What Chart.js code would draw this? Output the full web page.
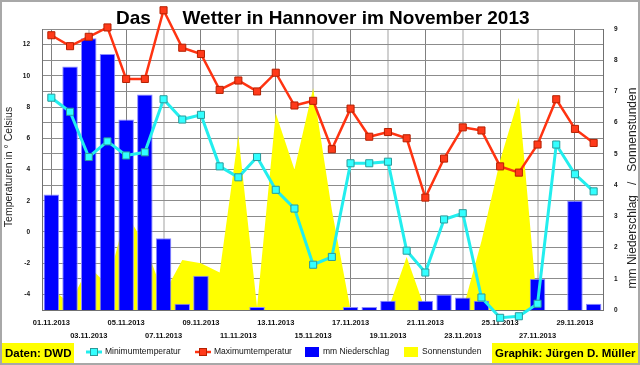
<!DOCTYPE html>
<html><head><meta charset="utf-8">
<script src="https://cdn.jsdelivr.net/npm/chart.js@4/dist/chart.umd.min.js"></script>
<style>html,body{margin:0;padding:0;background:#fff;overflow:hidden}#wrap{width:640px;height:365px;position:relative}canvas{display:block}</style>
</head><body><div id="wrap"><canvas id="c" width="640" height="365"></canvas></div>
<script>
const categories = ['01.11.2013','02.11.2013','03.11.2013','04.11.2013','05.11.2013','06.11.2013','07.11.2013','08.11.2013','09.11.2013','10.11.2013',
  '11.11.2013','12.11.2013','13.11.2013','14.11.2013','15.11.2013','16.11.2013','17.11.2013','18.11.2013','19.11.2013','20.11.2013',
  '21.11.2013','22.11.2013','23.11.2013','24.11.2013','25.11.2013','26.11.2013','27.11.2013','28.11.2013','29.11.2013','30.11.2013'];
const minTemp = [8.6, 7.7, 4.8, 5.8, 4.9, 5.1, 8.5, 7.2, 7.5, 4.2, 3.5, 4.8, 2.7, 1.5, -2.1, -1.6, 4.4, 4.4, 4.5, -1.2, -2.6, 0.8, 1.2, -4.2, -5.5, -5.4, -4.6, 5.6, 3.7, 2.6];
const maxTemp = [12.6, 11.9, 12.5, 13.1, 9.8, 9.8, 14.2, 11.8, 11.4, 9.1, 9.7, 9.0, 10.2, 8.1, 8.4, 5.3, 7.9, 6.1, 6.4, 6.0, 2.2, 4.7, 6.7, 6.5, 4.2, 3.8, 5.6, 8.5, 6.6, 5.7];
const precipitation = [3.7, 7.8, 8.7, 8.2, 6.1, 6.9, 2.3, 0.2, 1.1, 0, 0, 0.1, 0, 0, 0, 0, 0.1, 0.1, 0.3, 0, 0.3, 0.5, 0.4, 0.3, 0, 0, 1.0, 0, 3.5, 0.2];
const sunshine = [0.7, 0.2, 1.4, 0.8, 3.1, 2.1, 0.5, 1.6, 1.5, 1.2, 5.6, 0.1, 6.3, 4.5, 7.1, 3.2, 0, 0, 0, 1.7, 0, 0, 0, 2.2, 4.8, 6.8, 0, 0, 0, 0];
const tempTickLabels = [-4, -2, 0, 2, 4, 6, 8, 10, 12];
const rightTickLabels = [0, 1, 2, 3, 4, 5, 6, 7, 8, 9];
const titleText = 'Das      Wetter in Hannover im November 2013';
const leftTitle = 'Temperaturen in \u00b0 Celsius';
const rightTitle = 'mm Niederschlag   /   Sonnenstunden';
const sourceText = 'Daten: DWD';
const authorText = 'Graphik: J\u00fcrgen D. M\u00fcller';

const FONT = '"Liberation Sans", Arial, sans-serif';
const C_MIN = '#22eeee', C_MIN_PT = '#33ffff', C_MIN_BD = '#2a9a9a';
const C_MAX = '#ff3311', C_MAX_PT = '#ff3a1a', C_MAX_BD = '#b52000';

const deco = {
  id: 'deco',
  beforeDraw(chart) {
    const ctx = chart.ctx;
    ctx.save();
    ctx.fillStyle = '#ffffff';
    ctx.fillRect(0, 0, chart.width, chart.height);
    ctx.restore();
  },
  afterDatasetDraw(chart, args) {
    // markers lying just outside the plot area (the library skips them)
    const meta = args.meta;
    if (meta.type !== 'line') return;
    const area = chart.chartArea;
    const big = { left: -1e4, top: -1e4, right: 1e4, bottom: 1e4 };
    meta.data.forEach(pt => {
      const r = pt.options.radius;
      if (!(r > 0.1)) return;
      if (pt.y < area.top - r / 2 || pt.y > area.bottom + r / 2) pt.draw(chart.ctx, big);
    });
  },
  afterDraw(chart) {
    const ctx = chart.ctx;
    const ds = chart.data.datasets;
    ctx.save();
    // title
    ctx.fillStyle = '#000';
    ctx.font = 'bold 19px ' + FONT;
    ctx.textAlign = 'left';
    ctx.textBaseline = 'alphabetic';
    ctx.fillText(titleText, 116, 24);
    // axis titles
    ctx.font = '10.5px ' + FONT;
    ctx.fillStyle = '#222';
    ctx.textAlign = 'center';
    ctx.textBaseline = 'middle';
    ctx.save(); ctx.translate(9, 167); ctx.rotate(-Math.PI / 2); ctx.fillText(leftTitle, 0, 0); ctx.restore();
    ctx.font = '12px ' + FONT;
    ctx.save(); ctx.translate(633, 188); ctx.rotate(-Math.PI / 2); ctx.fillText(rightTitle, 0, 0); ctx.restore();
    // legend
    const ly = 352;
    ctx.font = '8.5px ' + FONT;
    ctx.textAlign = 'left';
    ctx.fillStyle = '#111';
    function lineItem(x0, x1, d) {
      ctx.strokeStyle = d.borderColor; ctx.lineWidth = d.borderWidth;
      ctx.beginPath(); ctx.moveTo(x0, ly); ctx.lineTo(x1, ly); ctx.stroke();
      const cx = (x0 + x1) / 2;
      ctx.fillStyle = d.pointBackgroundColor; ctx.fillRect(cx - 3.5, ly - 3.5, 7, 7);
      ctx.strokeStyle = d.pointBorderColor; ctx.lineWidth = 1; ctx.strokeRect(cx - 3.5, ly - 3.5, 7, 7);
      ctx.fillStyle = '#111'; ctx.fillText(d.label, x1 + 3, ly);
    }
    lineItem(86, 102, ds[0]);
    lineItem(195, 211, ds[1]);
    ctx.fillStyle = ds[2].backgroundColor; ctx.fillRect(305, ly - 5, 14, 10);
    ctx.fillStyle = '#111'; ctx.fillText(ds[2].label, 323, ly);
    ctx.fillStyle = ds[3].backgroundColor; ctx.fillRect(404, ly - 5, 14, 10);
    ctx.fillStyle = '#111'; ctx.fillText(ds[3].label, 422, ly);
    // footer boxes
    ctx.font = 'bold 11.5px ' + FONT;
    ctx.fillStyle = '#ffff00'; ctx.fillRect(1, 343, 73, 20);
    ctx.fillStyle = '#000'; ctx.fillText(sourceText, 5, 354);
    ctx.fillStyle = '#ffff00'; ctx.fillRect(492, 343, 146, 20);
    ctx.fillStyle = '#000'; ctx.fillText(authorText, 495, 354);
    // outer border
    ctx.strokeStyle = '#a8a8a8'; ctx.lineWidth = 2;
    ctx.strokeRect(1, 1, chart.width - 2, chart.height - 2);
    ctx.restore();
  }
};

new Chart(document.getElementById('c'), {
  type: 'bar',
  data: {
    labels: categories,
    datasets: [
      { type: 'line', label: 'Minimumtemperatur', data: minTemp, yAxisID: 'y', order: 1,
        borderColor: C_MIN, borderWidth: 3, pointStyle: 'rect', pointRadius: 5, pointHoverRadius: 5,
        pointBackgroundColor: C_MIN_PT, pointBorderColor: C_MIN_BD, pointBorderWidth: 1, tension: 0, clip: false, fill: false },
      { type: 'line', label: 'Maximumtemperatur', data: maxTemp, yAxisID: 'y', order: 0,
        borderColor: C_MAX, borderWidth: 2.5, pointStyle: 'rect', pointRadius: 5, pointHoverRadius: 5,
        pointBackgroundColor: C_MAX_PT, pointBorderColor: C_MAX_BD, pointBorderWidth: 1, tension: 0, clip: false, fill: false },
      { type: 'bar', label: 'mm Niederschlag', data: precipitation, yAxisID: 'y1', order: 2,
        backgroundColor: '#0000ff', borderColor: '#8c8cff',
        borderWidth: c => (c.raw > 0 ? 1 : 0), borderSkipped: 'bottom',
        categoryPercentage: 1, barPercentage: 0.83 },
      { type: 'line', label: 'Sonnenstunden', data: sunshine, yAxisID: 'y1', order: 3,
        backgroundColor: '#ffff00', borderColor: '#ffff00', borderWidth: 0, pointRadius: 0, pointHoverRadius: 0,
        fill: 'origin', tension: 0 }
    ]
  },
  options: {
    responsive: false,
    animation: false,
    devicePixelRatio: 1,
    layout: { padding: { top: 29, left: 0, right: 0, bottom: 0 } },
    plugins: { legend: { display: false }, tooltip: { enabled: false }, title: { display: false } },
    scales: {
      x: {
        type: 'category', offset: true,
        afterFit: s => { s.height = 55; },
        border: { display: true, color: '#707070', width: 1 },
        grid: {
          offset: false, drawTicks: false,
          color: c => (c.index % 4 === 0 ? '#808080' : (c.index % 4 === 2 ? '#d0d0d0' : 'rgba(0,0,0,0)')),
          lineWidth: c => (c.index % 4 === 2 ? 2 : 1)
        },
        ticks: {
          autoSkip: false, maxRotation: 0, minRotation: 0, padding: 6.5, color: '#111',
          font: { family: FONT, size: 7.5, weight: 'bold', lineHeight: '13px' },
          callback: function (v, i) {
            const l = categories[i];
            if (i % 4 === 0) return [l, ''];
            if (i % 4 === 2) return ['', l];
            return '';
          }
        }
      },
      y: {
        position: 'left', min: -5, max: 13,
        afterFit: s => { s.width = 42; },
        border: { display: true, color: '#707070', width: 1 },
        grid: { color: '#8c8c8c', lineWidth: 1, drawTicks: false },
        ticks: {
          stepSize: 1, padding: 12, color: '#111',
          font: { family: FONT, size: 6.5, weight: 'bold' },
          callback: v => (tempTickLabels.includes(v) ? String(v) : '')
        }
      },
      y1: {
        position: 'right', min: 0, max: 9,
        afterFit: s => { s.width = 37; },
        border: { display: true, color: '#707070', width: 1 },
        grid: { display: false, drawTicks: false },
        ticks: {
          stepSize: 1, padding: 11, color: '#111',
          font: { family: FONT, size: 6.5, weight: 'bold' },
          callback: v => (rightTickLabels.includes(v) ? String(v) : '')
        }
      }
    }
  },
  plugins: [deco]
});
</script>
</body></html>
